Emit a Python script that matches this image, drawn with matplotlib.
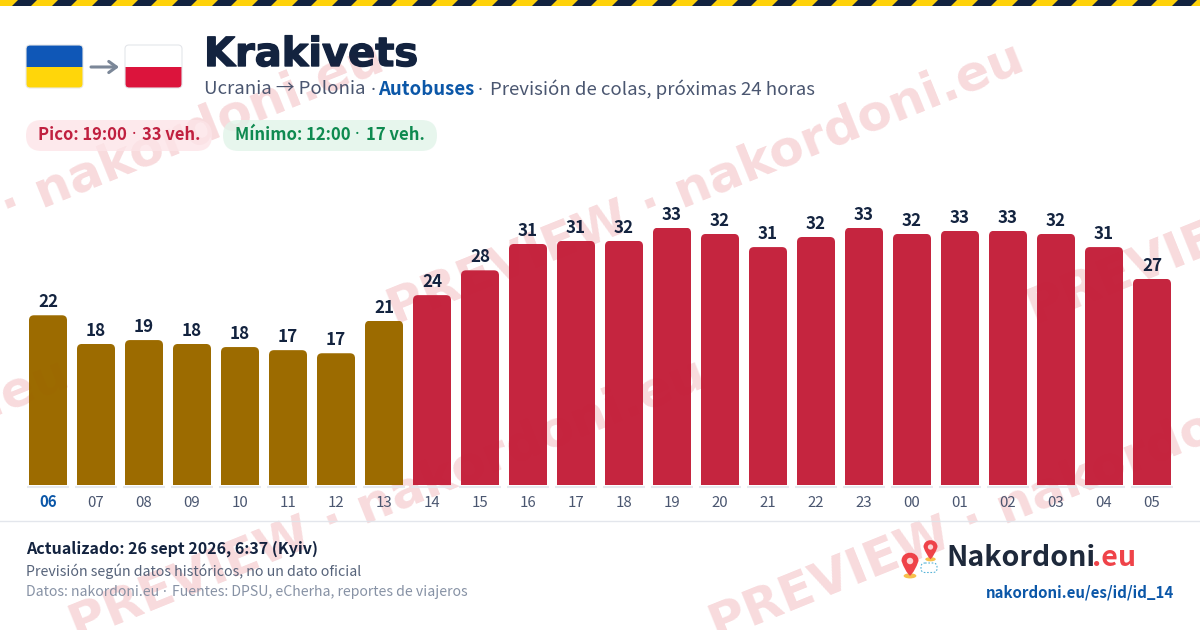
import matplotlib
matplotlib.use("Agg")
import matplotlib.pyplot as plt
import matplotlib.patheffects as pe
from matplotlib.patches import FancyBboxPatch, Polygon, Rectangle, Circle, PathPatch, Ellipse
from matplotlib.path import Path
from matplotlib.transforms import Affine2D

hours = ["06","07","08","09","10","11","12","13","14","15","16","17","18","19","20","21","22","23","00","01","02","03","04","05"]
values = [21.9,18.2,18.7,18.2,17.8,17.4,17.0,21.2,24.5,27.7,31.1,31.5,31.5,33.2,32.4,30.7,32.0,33.2,32.4,32.8,32.8,32.4,30.7,26.6]
labels = [22,18,19,18,18,17,17,21,24,28,31,31,32,33,32,31,32,33,32,33,33,32,31,27]
forecast_high = [False]*8 + [True]*16
AMBER, RED = "#9c6b00", "#c5253f"
NAVY = "#13233f"
BODY = ["Noto Sans CJK JP", "DejaVu Sans"]

W, H = 1200, 630
fig = plt.figure(figsize=(12, 6.3), dpi=100, facecolor="#ffffff")
px = 0.72  # pt per px
rend = fig.canvas.get_renderer()

bg = fig.add_axes([0, 0, 1, 1], zorder=0); bg.set_xlim(0, W); bg.set_ylim(H, 0); bg.axis("off")
top = fig.add_axes([0, 0, 1, 1], zorder=5); top.set_xlim(0, W); top.set_ylim(H, 0); top.axis("off"); top.patch.set_alpha(0)

# watermark: behind the chart, with a very faint trace through the bars
WM = dict(fontsize=50 * px, fontweight="bold", family="DejaVu Sans", color="#d8202c", rotation=22, rotation_mode="anchor", ha="left", va="center", clip_on=True)
mark = "PREVIEW · nakordoni.eu"
for xw, yw in [(-250, 312), (390, 312), (1030, 312), (-565, 628), (72, 628), (712, 628)]:
    bg.text(xw, yw, mark, alpha=0.15, zorder=1, **WM)
    top.text(xw, yw, mark, alpha=0.02, **WM)

def dotted(x, y, s, size, **kw):
    """Left-aligned text whose ' · ' separators use a narrower middle dot than the CJK font has."""
    parts = s.split(" · ")
    for i, p in enumerate(parts):
        if p:
            t = bg.text(x, y, p, fontsize=size * px, family=BODY, va="center", zorder=3, **kw)
            x += t.get_window_extent(rend).width
        if i < len(parts) - 1:
            x += size * 0.27
            d = bg.text(x, y, "·", fontsize=size * px, family="Noto Sans", va="center", zorder=3, **kw)
            x += d.get_window_extent(rend).width + size * 0.38
    return x

# hazard stripe
bg.add_patch(Rectangle((0, 0), W, 6, fc="#ffd20a", ec="none"))
for x0 in range(-25, W + 40, 40):
    bg.add_patch(Polygon([(x0 + 43, 0), (x0 + 62, 0), (x0 + 56, 6), (x0 + 37, 6)], fc=NAVY, ec="none"))

def flag(ax, x, y, w, h, c1, c2, edge):
    clip = FancyBboxPatch((x, y), w, h, boxstyle="round,pad=0,rounding_size=4", fc="none", ec=edge, lw=0.8, transform=ax.transData, zorder=3)
    ax.add_patch(clip)
    for c, yy in ((c1, y), (c2, y + h / 2)):
        r = Rectangle((x, yy), w, h / 2, fc=c, ec="none", zorder=2)
        ax.add_patch(r); r.set_clip_path(clip)
flag(bg, 26, 45, 57, 43, "#0f57b7", "#ffd60a", "#e8e8e8")
flag(bg, 125, 45, 57, 43, "#ffffff", "#dc143c", "#e4e6ea")
bg.annotate("", xy=(119, 67), xytext=(91, 67), arrowprops=dict(arrowstyle="->,head_length=0.55,head_width=0.4", color="#7b8798", lw=2.2, shrinkA=0, shrinkB=0))

# header text
bg.text(204, 55, "Krakivets", fontsize=40 * px, fontweight="bold", family="DejaVu Sans", color=NAVY, va="center", ha="left", zorder=3,
        path_effects=[pe.withStroke(linewidth=1.0, foreground=NAVY)])
y_sub = 89.5
dotted(204, y_sub, "Ucrania → Polonia · ", 18.6, color="#4a5670")
bg.text(378, y_sub, "Autobuses", fontsize=18.6 * px, family=BODY, fontweight="bold", color="#0b57a8", va="center", zorder=3)
dotted(473, y_sub, " · Previsión de colas, próximas 24 horas", 18.6, color="#4a5670")

def pill(x, y, w, h, fc):
    bg.add_patch(FancyBboxPatch((x, y), w, h, boxstyle=f"round,pad=0,rounding_size={h/2}", fc=fc, ec="none", alpha=0.9, zorder=2))
pill(26, 120, 186, 31, "#fde7ea")
pill(223, 120, 214, 31, "#e5f5ec")
dotted(38, 135, "Pico: 19:00 · 33 veh.", 16.6, fontweight="bold", color="#c02040")
dotted(235, 135, "Mínimo: 12:00 · 17 veh.", 16.7, fontweight="bold", color="#0e8a50")

# chart
ax_left, ax_w, base, ax_h = 24, 1152, 485, 310
ax = fig.add_axes([ax_left / W, (H - base) / H, ax_w / W, ax_h / H], zorder=2)
ax.patch.set_alpha(0)
ax.set_xlim(-0.5, 23.5); ax.set_ylim(0, 40)
for s in ax.spines.values():
    s.set_visible(False)
x = list(range(len(hours)))
bars = ax.bar(x, values, width=38 / 48, color=[RED if f else AMBER for f in forecast_high], linewidth=0)
xu, yu = 1 / 48, 40 / ax_h
for b in bars:
    c = FancyBboxPatch((b.get_x(), -2), b.get_width(), b.get_height() + 2,
                       boxstyle=f"round,pad=0,rounding_size={5 * xu}", mutation_aspect=yu / xu,
                       transform=ax.transData, fc="none", ec="none")
    b.set_clip_path(c)
for xi, v, l in zip(x, values, labels):
    ax.annotate(str(l), (xi, v), xytext=(0, 3), textcoords="offset points", ha="center", va="bottom",
                fontsize=17 * px, fontweight="bold", family=BODY, color=NAVY)
ax.set_xticks(x); ax.set_xticklabels(hours, family=BODY, fontsize=15 * px, color="#4a5670")
ax.tick_params(axis="x", length=0, pad=8)
ax.set_yticks([])
tl = ax.get_xticklabels()[0]; tl.set_fontweight("bold"); tl.set_color("#0b57a8")
tl.set_transform(tl.get_transform() + Affine2D().translate(0, 2))
for xi in x:
    bg.plot([ax_left + 48 * xi + 3, ax_left + 48 * xi + 45], [486.5, 486.5], color="#e6e9ef", lw=1.5, solid_capstyle="butt", zorder=2)

# footer
bg.plot([0, W], [521, 521], color="#e3e6ec", lw=1, zorder=2)
bg.text(26, 548.5, "Actualizado: 26 sept 2026, 6:37 (Kyiv)", fontsize=16 * px, family=BODY, fontweight="bold", color=NAVY, va="center", zorder=3)
bg.text(26, 571, "Previsión según datos históricos, no un dato oficial", fontsize=14.2 * px, family=BODY, color="#56637a", va="center", zorder=3)
dotted(26, 592, "Datos: nakordoni.eu · Fuentes: DPSU, eCherha, reportes de viajeros", 14.1, color="#8792a5")

# logo
def pin(axx, cx, cy, r, c="#ef4349"):
    verts = [(cx - r, cy), (cx - r, cy - 1.3 * r), (cx + r, cy - 1.3 * r), (cx + r, cy), (cx + r * 0.6, cy + 1.2 * r), (cx, cy + 1.75 * r), (cx, cy + 1.75 * r), (cx - r * 0.6, cy + 1.2 * r), (cx - r, cy), (cx - r, cy)]
    codes = [Path.MOVETO, Path.CURVE4, Path.CURVE4, Path.CURVE4, Path.CURVE3, Path.CURVE3, Path.LINETO, Path.CURVE3, Path.CURVE3, Path.CLOSEPOLY]
    axx.add_patch(Ellipse((cx, cy + 1.75 * r), r * 1.5, r * 0.6, fc="#f6c04d", ec="none", zorder=4))
    axx.add_patch(PathPatch(Path(verts, codes), fc=c, ec="none", zorder=4))
    axx.add_patch(Circle((cx, cy), r * 0.38, fc="#fbd5d5", ec="none", zorder=4))
pin(bg, 930.5, 547, 7)
pin(bg, 910, 561, 8.5)
bg.add_patch(FancyBboxPatch((921, 563), 16, 9.5, boxstyle="round,pad=0,rounding_size=4", fc="none", ec="#58b4d8", lw=0.8, ls=(0, (1.5, 1.5)), zorder=3))
bg.text(946, 558, "Nakordoni", fontsize=28.5 * px, family=BODY, fontweight="bold", color="#1e293b", va="center", zorder=3)
bg.text(1092, 558, ".eu", fontsize=28.5 * px, family=BODY, fontweight="bold", color="#ef4349", va="center", ha="left", zorder=3)
bg.text(1174, 592, "nakordoni.eu/es/id/id_14", fontsize=15 * px, family=BODY, fontweight="bold", color="#0b57a8", va="center", ha="right", zorder=3)

fig.savefig("out.png", dpi=100, facecolor=fig.get_facecolor())
